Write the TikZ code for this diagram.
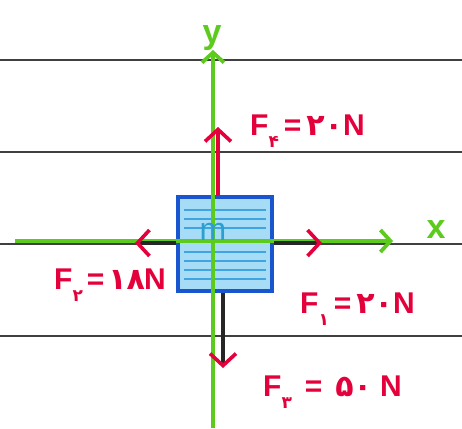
\documentclass[tikz,border=0pt]{standalone}
\usepackage{fontspec}
\setmainfont{Liberation Sans}
\newfontfamily\pfont{DejaVu Sans}
\usetikzlibrary{arrows.meta}
\definecolor{gr}{HTML}{5CCB1E}
\definecolor{rd}{HTML}{E4003A}
\definecolor{bl}{HTML}{1A55D0}
\definecolor{lb}{HTML}{A6DCF5}
\definecolor{hb}{HTML}{3FA4E0}
\definecolor{mb}{HTML}{2A9FD0}
\newcommand\flab[3]{F\raisebox{-0.4em}{\pfont\bfseries\fontsize{17}{17}\selectfont #1}\hspace{#3}\,=\,\hspace{#3}{\pfont\bfseries #2}\hspace{#3}N}
\begin{document}
\begin{tikzpicture}[x=1pt,y=-1pt,
  rule/.style={draw=black!75, line width=1.2},
  axis/.style={draw=gr, line width=3.8, -{Straight Barb[length=10,width=22]}},
  force/.style={line width=3.6, -{Straight Barb[length=12,width=26,color=rd]}},
  lab/.style={text=rd, anchor=west, inner sep=0, font=\bfseries\fontsize{30}{30}\selectfont},
  axlab/.style={text=gr, inner sep=0, font=\bfseries\fontsize{34}{34}\selectfont}]
\useasboundingbox (0,0) rectangle (462,428);
\fill[white] (0,0) rectangle (462,428);
\foreach \y in {60,152,244,336} \draw[rule] (0,\y) -- (462,\y);
% box
\node[draw=bl, line width=4.5, fill=lb, minimum width=94, minimum height=94, inner sep=0] (m) at (225,244) {};
\foreach \y in {210,219,228,252,261,270,279}
  \draw[hb, line width=1.4] (184,\y) -- (266,\y);
% axes
\coordinate (xs) at (15,241);
\coordinate (xe) at (393,241);
\coordinate (ys) at (213,428);
\coordinate (ye) at (213,50);
\draw[axis] (xs) -- (xe);
\draw[axis] (ys) -- (ye);
\node[axlab] (ylab) at (212,38) {y};
\node[axlab] (xlab) at (436,230) {x};
\node[text=mb, font=\fontsize{32}{32}\selectfont, inner sep=0] (mlab) at (213,232) {m};
% forces
\coordinate (t4) at (218,127);
\coordinate (t2) at (135,243);
\coordinate (t1) at (322,243);
\coordinate (t3) at (223,368);
\draw[force, draw=rd] (m.north -| t4) -- (t4);
\draw[force, draw=black!85] (m.west |- t2) -- (t2);
\draw[force, draw=black!85] (m.east |- t1) -- (t1);
\draw[force, draw=black!85] (m.south -| t3) -- (t3);
% labels
\node[lab] (l4) at (250,131) {\flab{۴}{۲۰}{0pt}};
\node[lab] (l2) at (54,285) {\flab{۲}{۱۸}{-1pt}};
\node[lab] (l1) at (300,309) {\flab{۱}{۲۰}{0pt}};
\node[lab] (l3) at (263,392) {\flab{۳}{۵۰}{8pt}};
\end{tikzpicture}
\end{document}
